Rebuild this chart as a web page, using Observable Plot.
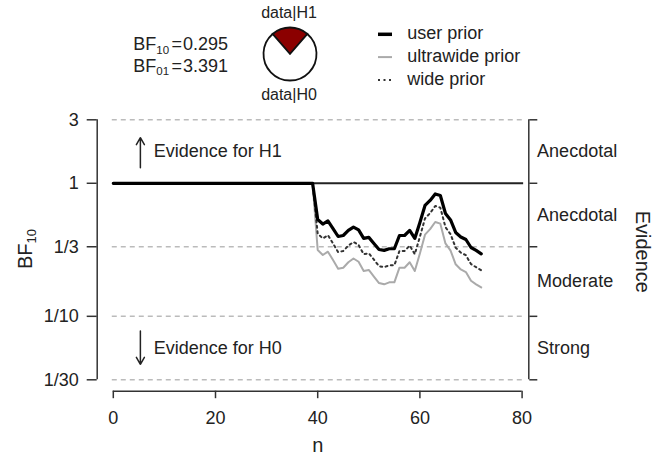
<!DOCTYPE html>
<html><head><meta charset="utf-8">
<script src="https://cdn.jsdelivr.net/npm/d3@7"></script>
<script src="https://cdn.jsdelivr.net/npm/@observablehq/plot@0.6"></script>
<style>body{margin:0;background:#fff} #chart{width:660px;height:455px;position:relative}</style>
</head><body><div id="chart"></div>
<script>
// ---------- data ----------
const n = [0,1,2,3,4,5,6,7,8,9,10,11,12,13,14,15,16,17,18,19,20,21,22,23,24,25,26,27,28,29,30,31,32,33,34,35,36,37,38,39,40,41,42,43,44,45,46,47,48,49,50,51,52,53,54,55,56,57,58,59,60,61,62,63,64,65,66,67,68,69,70,71,72];
const userPrior = [1,1,1,1,1,1,1,1,1,1,1,1,1,1,1,1,1,1,1,1,1,1,1,1,1,1,1,1,1,1,1,1,1,1,1,1,1,1,1,1,
  0.534,0.494,0.521,0.457,0.398,0.405,0.442,0.468,0.446,0.385,0.392,0.353,0.318,0.313,0.322,0.322,0.405,0.405,0.442,0.385,0.508,0.681,0.743,0.831,0.810,0.593,0.530,0.427,0.395,0.378,0.329,0.313,0.295];
const widePrior = [1,1,1,1,1,1,1,1,1,1,1,1,1,1,1,1,1,1,1,1,1,1,1,1,1,1,1,1,1,1,1,1,1,1,1,1,1,1,1,1,
  0.418,0.385,0.407,0.353,0.304,0.310,0.340,0.362,0.344,0.293,0.298,0.267,0.238,0.234,0.242,0.242,0.310,0.310,0.340,0.293,0.396,0.544,0.597,0.675,0.656,0.468,0.414,0.328,0.301,0.288,0.247,0.234,0.222];
const ultrawidePrior = [1,1,1,1,1,1,1,1,1,1,1,1,1,1,1,1,1,1,1,1,1,1,1,1,1,1,1,1,1,1,1,1,1,1,1,1,1,1,1,1,
  0.315,0.289,0.306,0.265,0.228,0.232,0.255,0.272,0.257,0.219,0.223,0.199,0.178,0.174,0.180,0.180,0.232,0.232,0.255,0.219,0.297,0.411,0.452,0.512,0.497,0.353,0.312,0.246,0.225,0.215,0.185,0.174,0.165];
const yTicks = [3, 1, 1/3, 1/10, 1/30];
const yTickLabels = ["3", "1", "1/3", "1/10", "1/30"];
const xTicks = [0, 20, 40, 60, 80];
const evidenceLabels = ["Anecdotal", "Anecdotal", "Moderate", "Strong"];
const legendLabels = ["user prior", "ultrawide prior", "wide prior"];
const bf10 = 0.295;
const bf01 = 3.391;
const pieLabels = ["data|H1", "data|H0"];

// ---------- chart ----------
const FONT = '"Liberation Sans", Arial, Helvetica, sans-serif';
const TXT = "#222";
const evidenceMid = d3.pairs(yTicks).map(([a, b]) => Math.sqrt(a * b));
const dashed = yTicks.filter(t => t !== 1);
const fmtY = d => yTickLabels[yTicks.indexOf(d)];

const chart = Plot.plot({
  width: 660, height: 455,
  marginLeft: 112.8, marginRight: 138.4, marginTop: 119.3, marginBottom: 75.7,
  style: {fontFamily: FONT, fontSize: "18px", color: TXT, background: "white", overflow: "visible"},
  x: {domain: [0, 80]},
  y: {type: "log", domain: [1/30, 3]},
  marks: [
    Plot.ruleY(dashed, {x1: -0.2, x2: 80.3, stroke: "#bbb", strokeWidth: 1.5, strokeDasharray: "5,4"}),
    Plot.ruleY([1], {x1: 0, x2: 80.3, stroke: "#222", strokeWidth: 2}),
    Plot.line(ultrawidePrior, {x: n, y: d => d, stroke: "#aaa", strokeWidth: 2}),
    Plot.line(widePrior, {x: n, y: d => d, stroke: "#333", strokeWidth: 2, strokeDasharray: "2,3.5"}),
    Plot.line(userPrior, {x: n, y: d => d, stroke: "#000", strokeWidth: 3.2}),
    // left axis
    Plot.ruleX([0], {y1: 1/30, y2: 3, dx: -16.1, stroke: "#333", strokeWidth: 1.5}),
    Plot.axisY(yTicks, {anchor: "left", dx: -16.1, tickSize: 10, tickPadding: 8.4, tickFormat: fmtY, fontSize: 18, label: null, stroke: "#333", strokeWidth: 1.5, fill: TXT}),
    // bottom axis
    Plot.ruleY([1/30], {x1: 0, x2: 80, dy: 11.4, stroke: "#333", strokeWidth: 1.5}),
    Plot.axisX(xTicks, {anchor: "bottom", dy: 11.4, tickSize: 7.5, tickPadding: 13, fontSize: 18, label: null, stroke: "#333", strokeWidth: 1.5, fill: TXT}),
    Plot.text(["n"], {frameAnchor: "bottom", lineAnchor: "middle", dy: 65.7, fontSize: 20, fill: TXT}),
    // right evidence axis
    Plot.ruleX([80], {y1: 1/30, y2: 3, dx: 6.7, stroke: "#333", strokeWidth: 1.5}),
    Plot.axisY(yTicks, {anchor: "right", dx: 6.7, tickSize: 8, tickFormat: () => "", label: null, stroke: "#333", strokeWidth: 1.5}),
    Plot.text(evidenceLabels, {y: evidenceMid, text: d => d, frameAnchor: "right", dx: 15, textAnchor: "start", fontSize: 18, fill: TXT}),
    Plot.text(["Evidence"], {frameAnchor: "right", textAnchor: "middle", lineAnchor: "middle", dx: 120, dy: 2, rotate: 90, fontSize: 20, fill: TXT}),
    // annotations
    Plot.arrow([0], {x1: 5.3, x2: 5.3, y1: 1.31, y2: 2.2, stroke: TXT, strokeWidth: 1.5, headLength: 8, insetStart: 0, insetEnd: 0}),
    Plot.arrow([0], {x1: 5.3, x2: 5.3, y1: 0.0776, y2: 0.0436, stroke: TXT, strokeWidth: 1.5, headLength: 8, insetStart: 0, insetEnd: 0}),
    Plot.text(["Evidence for H1"], {x: 7.9, y: evidenceMid[0], textAnchor: "start", fontSize: 18, fill: TXT}),
    Plot.text(["Evidence for H0"], {x: 7.9, y: evidenceMid[3], textAnchor: "start", fontSize: 18, fill: TXT})
  ]
});
document.getElementById("chart").appendChild(chart);

// ---------- header (BF values, pie, legend) + y label ----------
const svg = d3.select(chart);
const g = svg.append("g").attr("font-family", FONT).attr("fill", TXT).attr("text-anchor", "start");

// y-axis label BF10
const yl = g.append("text").attr("transform", "translate(32,249) rotate(-90)").attr("text-anchor", "middle").attr("font-size", 20);
yl.append("tspan").text("BF");
yl.append("tspan").attr("font-size", 13).attr("dy", 4).text("10");

// BF text lines
[["10", bf10.toFixed(3), 50], ["01", bf01.toFixed(3), 71.7]].forEach(([sub, val, y]) => {
  const t = g.append("text").attr("y", y).attr("font-size", 18).attr("text-anchor", "start");
  t.append("tspan").attr("x", 133.3).text("BF");
  t.append("tspan").attr("font-size", 11.5).attr("dy", 3.5).text(sub);
  t.append("tspan").attr("x", 171.5).attr("dy", -3.5).text("=");
  t.append("tspan").attr("x", 183).text(val);
});

// pie of posterior probabilities (equal prior odds)
const pH1 = bf10 / (1 + bf10);
const pie = d3.pie().sort(null).startAngle(-Math.PI * pH1).endAngle(2 * Math.PI - Math.PI * pH1);
const arc = d3.arc().innerRadius(0).outerRadius(26.5);
const pg = g.append("g").attr("transform", "translate(290,54)");
pg.selectAll("path").data(pie([pH1, 1 - pH1])).join("path")
  .attr("d", arc).attr("fill", (d, i) => i === 0 ? "#8b0000" : "white")
  .attr("stroke", "#111").attr("stroke-width", 1.8);
g.append("text").attr("x", 289).attr("y", 17.5).attr("text-anchor", "middle").attr("font-size", 16).text(pieLabels[0]);
g.append("text").attr("x", 289).attr("y", 99.5).attr("text-anchor", "middle").attr("font-size", 16).text(pieLabels[1]);

// legend
const legendStyles = [
  {stroke: "#000", w: 3.5, dash: null},
  {stroke: "#aaa", w: 2, dash: null},
  {stroke: "#333", w: 2, dash: "2,3.5"}
];
legendLabels.forEach((lab, i) => {
  const y = 34.3 + i * 22.8;
  const s = legendStyles[i];
  const l = g.append("line").attr("x1", 378).attr("x2", 392).attr("y1", y).attr("y2", y)
    .attr("stroke", s.stroke).attr("stroke-width", s.w);
  if (s.dash) l.attr("stroke-dasharray", s.dash);
  g.append("text").attr("x", 407.3).attr("y", y + 5).attr("font-size", 18).attr("text-anchor", "start").text(lab);
});
</script>
</body></html>
